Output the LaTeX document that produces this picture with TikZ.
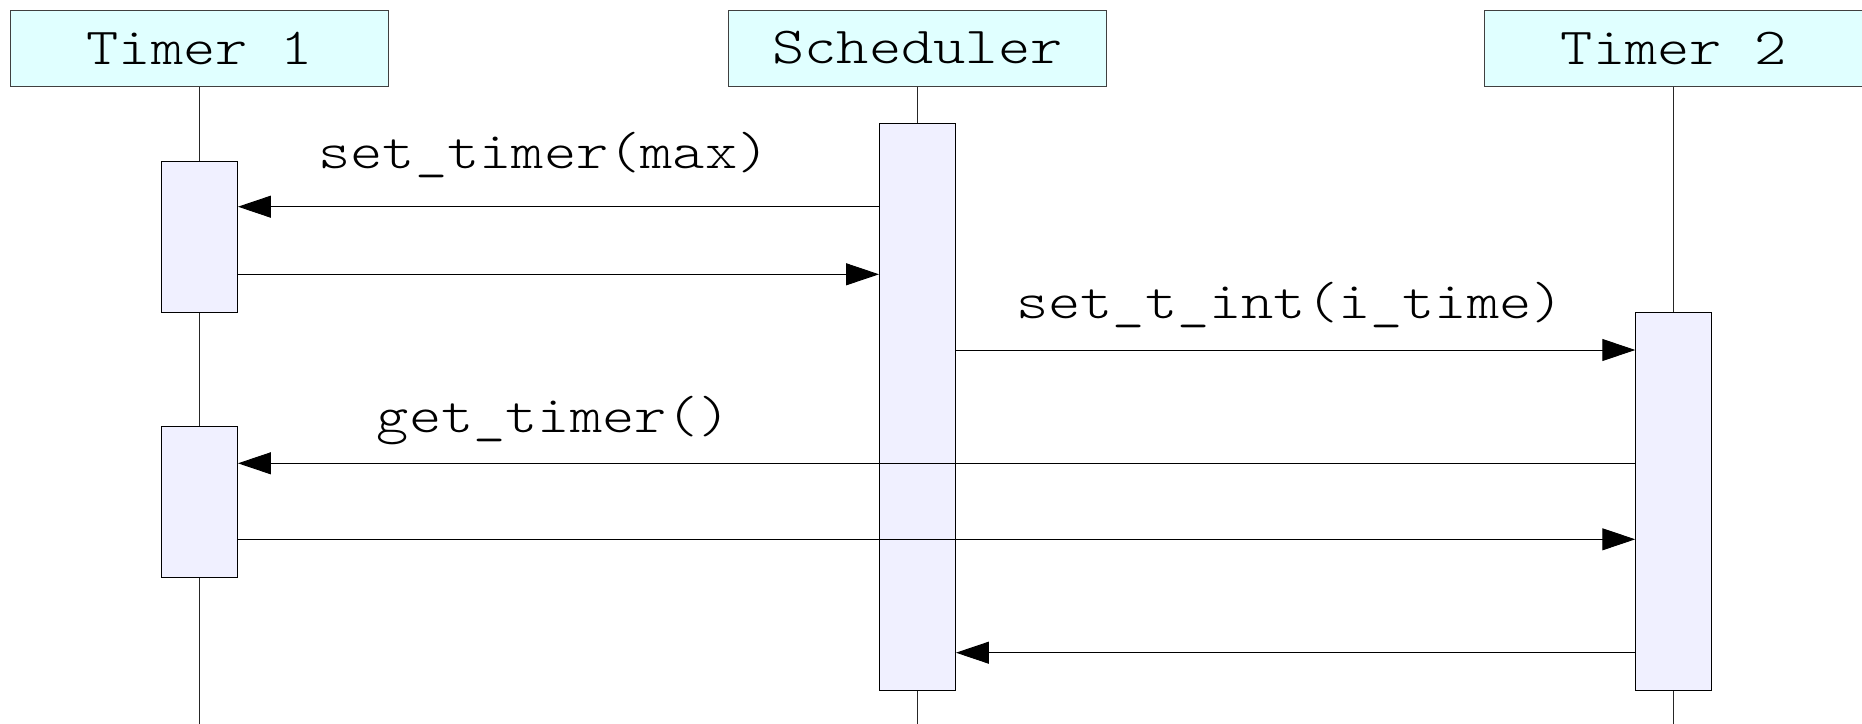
\documentclass[tikz,border=0pt]{standalone}
\usepackage{graphicx}
\usetikzlibrary{arrows.meta}
\definecolor{hdrfill}{HTML}{E0FFFF}
\definecolor{actfill}{HTML}{F0F0FF}
\newcommand\diagtxt[1]{\scalebox{1.18}[1]{#1}}
\begin{document}
\begin{tikzpicture}[x=1pt,y=-1pt,
  hdr/.style={draw=black!75, fill=hdrfill, line width=1pt, minimum width=378pt, minimum height=76pt, inner sep=0pt,
    font=\ttfamily\fontseries{l}\fontsize{52}{62}\selectfont},
  act/.style={draw=black, fill=actfill, line width=0.9pt, minimum width=76pt, inner sep=0pt, anchor=north},
  life/.style={draw=black!85, line width=0.9pt},
  msg/.style={draw=black, line width=1pt, -{Triangle[length=33pt,width=22pt]}},
  lbl/.style={inner sep=0pt, anchor=base, font=\ttfamily\fontseries{l}\fontsize{52}{62}\selectfont}]
\useasboundingbox (0,0) rectangle (1862,723);
\fill[white] (0,0) rectangle (1862,723);
% headers
\node[hdr] (h1) at (199.5,48) {\diagtxt{Timer 1}};
\node[hdr] (h2) at (917.5,48) {\diagtxt{Scheduler}};
\node[hdr] (h3) at (1673.7,48) {\diagtxt{Timer 2}};
\coordinate (bot) at (0,724);
% lifelines
\draw[life] (h1.south) -- (h1.south |- bot);
\draw[life] (h2.south) -- (h2.south |- bot);
\draw[life] (h3.south) -- (h3.south |- bot);
% activations
\node[act, minimum height=151pt] (t1a) at (199.5,161.3) {};
\node[act, minimum height=151pt] (t1b) at (199.5,426) {};
\node[act, minimum height=567pt] (sa) at (917.5,123.3) {};
\node[act, minimum height=378pt] (t2a) at (1673.7,312.3) {};
% message rows
\coordinate (r1) at (0,206.7);
\coordinate (r2) at (0,274.3);
\coordinate (r3) at (0,350);
\coordinate (r4) at (0,463.3);
\coordinate (r5) at (0,539.3);
\coordinate (r6) at (0,652.7);
% messages
\draw[msg] (sa.west |- r1) -- (t1a.east |- r1);
\draw[msg] (t1a.east |- r2) -- (sa.west |- r2);
\draw[msg] (sa.east |- r3) -- (t2a.west |- r3);
\draw[msg] (t2a.west |- r4) -- (t1b.east |- r4);
\draw[msg] (t1b.east |- r5) -- (t2a.west |- r5);
\draw[msg] (t2a.west |- r6) -- (sa.east |- r6);
% labels
\node[lbl] (l1) at (544,168) {\diagtxt{set\_timer(max)}};
\node[lbl] (l2) at (1290,318) {\diagtxt{set\_t\_int(i\_time)}};
\node[lbl] (l3) at (554,432) {\diagtxt{get\_timer()}};
\end{tikzpicture}
\end{document}
